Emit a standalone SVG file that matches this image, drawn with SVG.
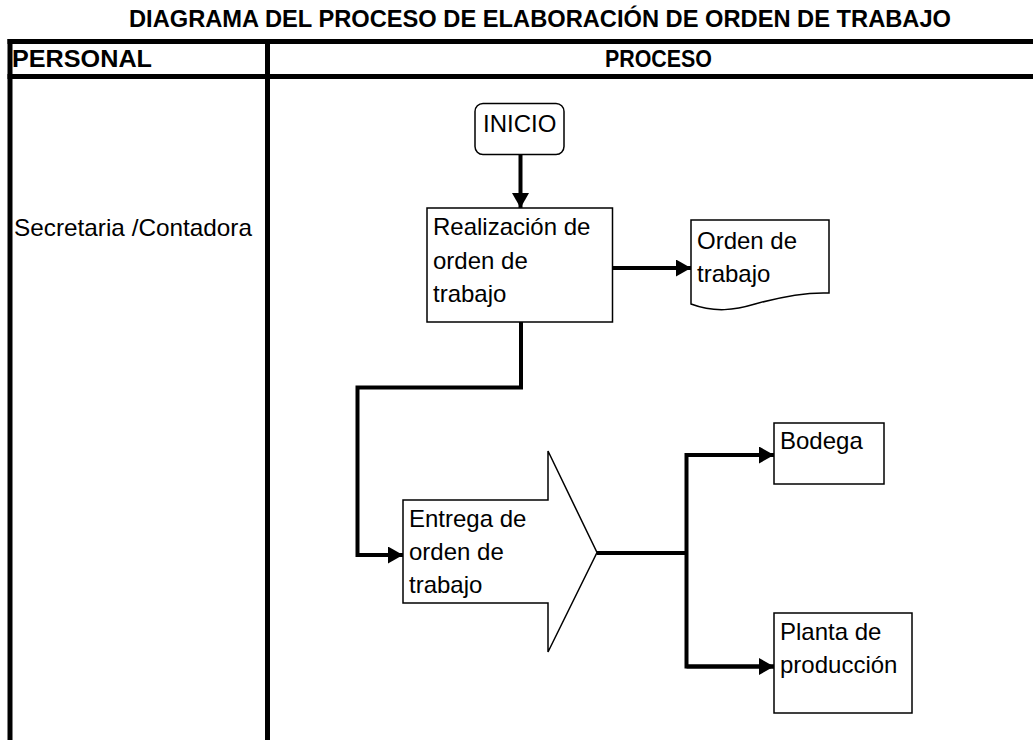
<svg xmlns="http://www.w3.org/2000/svg" width="1033" height="740" viewBox="0 0 1033 740">
<defs>
<style>
.t{font-family:"Liberation Sans",Arial,sans-serif;font-size:24px;fill:#000}
.b{font-family:"Liberation Sans",Arial,sans-serif;font-size:24px;font-weight:bold;fill:#000}
.grid{stroke:#000;stroke-width:5;fill:none}
.box{fill:#fff;stroke:#000;stroke-width:1.5}
.con{fill:none;stroke:#000;stroke-width:4}
</style>
<marker id="ah" markerWidth="15" markerHeight="17" refX="15" refY="8.5" orient="auto" markerUnits="userSpaceOnUse">
<path d="M0,0 L15,8.5 L0,17 Z" fill="#000"/>
</marker>
</defs>
<rect width="1033" height="740" fill="#fff"/>
<text class="b" x="129" y="27" textLength="822" lengthAdjust="spacingAndGlyphs">DIAGRAMA DEL PROCESO DE ELABORACIÓN DE ORDEN DE TRABAJO</text>
<g id="table">
<line class="grid" x1="7.5" y1="41.5" x2="1033" y2="41.5"/>
<line class="grid" x1="7.5" y1="76.5" x2="1033" y2="76.5"/>
<line class="grid" x1="10" y1="39" x2="10" y2="740"/>
<line class="grid" x1="267.5" y1="39" x2="267.5" y2="740"/>
<text class="b" x="12" y="67" textLength="140" lengthAdjust="spacingAndGlyphs">PERSONAL</text>
<text class="b" x="605" y="67" textLength="107" lengthAdjust="spacingAndGlyphs">PROCESO</text>
<text class="t" x="14" y="236" textLength="238" lengthAdjust="spacingAndGlyphs">Secretaria /Contadora</text>
</g>
<g id="connectors">
<line class="con" x1="520.5" y1="155" x2="520.5" y2="208" marker-end="url(#ah)"/>
<line class="con" x1="613" y1="268" x2="691" y2="268" marker-end="url(#ah)"/>
<polyline class="con" points="521,322 521,387.5 357.5,387.5 357.5,555 403,555" marker-end="url(#ah)"/>
<line class="con" x1="597" y1="553" x2="686.5" y2="553"/>
<polyline class="con" points="774,455 686.5,455 686.5,666.5 774,666.5"/>
<line class="con" x1="686.5" y1="455" x2="774" y2="455" marker-end="url(#ah)"/>
<line class="con" x1="686.5" y1="666.5" x2="774" y2="666.5" marker-end="url(#ah)"/>
</g>
<g id="inicio">
<rect class="box" x="475" y="103.5" width="89" height="51" rx="8" ry="8"/>
<text class="t" x="483" y="132">INICIO</text>
</g>
<g id="realizacion">
<rect class="box" x="427" y="208" width="185.5" height="114"/>
<text class="t" x="433" y="235">Realización de</text>
<text class="t" x="433" y="269">orden de</text>
<text class="t" x="433" y="302">trabajo</text>
</g>
<g id="orden">
<path class="box" d="M691,220 H829 V293 C805,292 780,297 755,304 C735,310 715,313 691,304 Z"/>
<text class="t" x="697" y="249">Orden de</text>
<text class="t" x="697" y="282">trabajo</text>
</g>
<g id="entrega">
<path class="box" d="M403,500 H548 V451 L597,552.5 L548,652 V603 H403 Z"/>
<text class="t" x="409" y="527">Entrega de</text>
<text class="t" x="409" y="560">orden de</text>
<text class="t" x="409" y="593">trabajo</text>
</g>
<g id="bodega">
<rect class="box" x="774" y="423" width="110" height="61"/>
<text class="t" x="780" y="449">Bodega</text>
</g>
<g id="planta">
<rect class="box" x="774" y="613" width="138" height="100"/>
<text class="t" x="780" y="640">Planta de</text>
<text class="t" x="780" y="673">producción</text>
</g>
</svg>
